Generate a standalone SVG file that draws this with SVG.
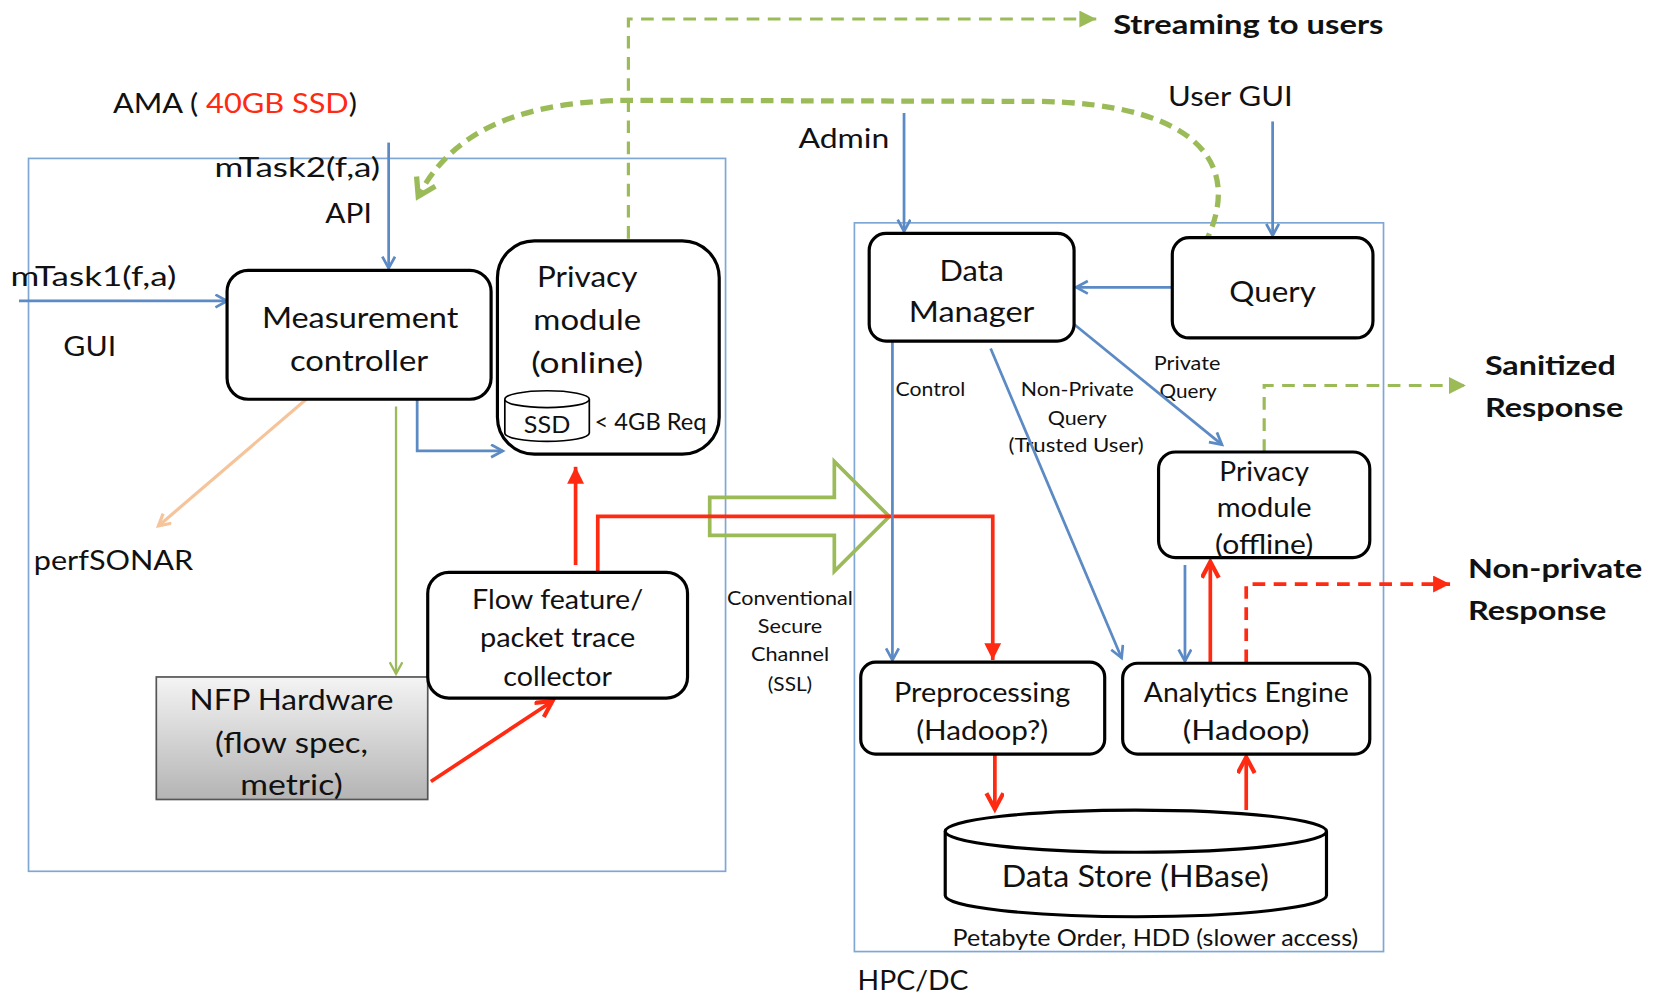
<svg xmlns="http://www.w3.org/2000/svg" width="1656" height="995" viewBox="0 0 1656 995">
<defs>
<style>
text{font-family:Lato,"Liberation Sans",sans-serif;fill:#111}
.t28{font-size:28px}
.t26{font-size:26px}
.t18{font-size:18px}
.b{font-weight:bold}
.box{fill:#fff;stroke:#000;stroke-width:3}
.frame{fill:none;stroke:#7fa7d6;stroke-width:1.6}
.blue{fill:none;stroke:#5b8ac4;stroke-width:2.6}
.red{fill:none;stroke:#ff2a12;stroke-width:3.5}
.green{fill:none;stroke:#9bbb59}
</style>
<linearGradient id="gray" x1="0" y1="0" x2="0" y2="1">
<stop offset="0" stop-color="#f4f4f4"/>
<stop offset="1" stop-color="#b4b4b4"/>
</linearGradient>
<marker id="ab" markerUnits="userSpaceOnUse" markerWidth="20" markerHeight="20" refX="12" refY="7" orient="auto">
<path d="M1,1 L12,7 L1,13" fill="none" stroke="#5b8ac4" stroke-width="2.6"/>
</marker>
<marker id="ar" markerUnits="userSpaceOnUse" markerWidth="24" markerHeight="24" refX="16" refY="9" orient="auto">
<path d="M1,1 L16,9 L1,17" fill="none" stroke="#ff2a12" stroke-width="4"/>
</marker>
<marker id="arf" markerUnits="userSpaceOnUse" markerWidth="24" markerHeight="24" refX="16" refY="8" orient="auto">
<path d="M0,0 L16,8 L0,16 Z" fill="#ff2a12"/>
</marker>
<marker id="ag" markerUnits="userSpaceOnUse" markerWidth="24" markerHeight="24" refX="16" refY="8" orient="auto">
<path d="M0,0 L16,8 L0,16 Z" fill="#9bbb59"/>
</marker>
<marker id="agt" markerUnits="userSpaceOnUse" markerWidth="20" markerHeight="20" refX="12" refY="7" orient="auto">
<path d="M1,1 L12,7 L1,13" fill="none" stroke="#9bbb59" stroke-width="2.2"/>
</marker>
<marker id="ago" markerUnits="userSpaceOnUse" markerWidth="30" markerHeight="30" refX="18" refY="12" orient="auto">
<path d="M2,2 L18,12 L2,22" fill="none" stroke="#9bbb59" stroke-width="5"/>
</marker>
<marker id="ap" markerUnits="userSpaceOnUse" markerWidth="20" markerHeight="20" refX="12" refY="7" orient="auto">
<path d="M1,1 L12,7 L1,13" fill="none" stroke="#f5c49a" stroke-width="3"/>
</marker>
</defs>
<rect width="1656" height="995" fill="#fff"/>
<g transform="scale(1.05612)">
<g id="frames">
<rect class="frame" x="27" y="150" width="660" height="675"/>
<rect class="frame" x="809" y="211" width="501" height="690"/>
</g>
<g id="labels">
<text class="t26" x="107" y="107" textLength="231" lengthAdjust="spacingAndGlyphs">AMA ( <tspan fill="#ff2a12">40GB SSD</tspan>)</text>
<text class="t26" x="203" y="168" textLength="157" lengthAdjust="spacingAndGlyphs">mTask2(f,a)</text>
<text class="t26" x="308" y="211" textLength="44" lengthAdjust="spacingAndGlyphs">API</text>
<text class="t26" x="10" y="271" textLength="157" lengthAdjust="spacingAndGlyphs">mTask1(f,a)</text>
<text class="t26" x="60" y="337" textLength="50" lengthAdjust="spacingAndGlyphs">GUI</text>
<text class="t26" x="32" y="540" textLength="151" lengthAdjust="spacingAndGlyphs">perfSONAR</text>
<text class="t26" x="756" y="140" textLength="86" lengthAdjust="spacingAndGlyphs">Admin</text>
<text class="t26" x="1106" y="100" textLength="118" lengthAdjust="spacingAndGlyphs">User GUI</text>
<text class="t26" x="812" y="937" textLength="105" lengthAdjust="spacingAndGlyphs">HPC/DC</text>
<text class="t26 b" x="1054" y="32" textLength="256" lengthAdjust="spacingAndGlyphs">Streaming to users</text>
<text class="t26 b" x="1406" y="355" textLength="124" lengthAdjust="spacingAndGlyphs">Sanitized</text>
<text class="t26 b" x="1406" y="395" textLength="131" lengthAdjust="spacingAndGlyphs">Response</text>
<text class="t26 b" x="1390" y="547" textLength="165" lengthAdjust="spacingAndGlyphs">Non-private</text>
<text class="t26 b" x="1390" y="587" textLength="131" lengthAdjust="spacingAndGlyphs">Response</text>
<g text-anchor="middle" class="t18">
<text x="748" y="573" textLength="119" lengthAdjust="spacingAndGlyphs">Conventional</text>
<text x="748" y="599" textLength="61" lengthAdjust="spacingAndGlyphs">Secure</text>
<text x="748" y="626" textLength="74" lengthAdjust="spacingAndGlyphs">Channel</text>
<text x="748" y="654" textLength="42" lengthAdjust="spacingAndGlyphs">(SSL)</text>
<text x="881" y="375" textLength="66" lengthAdjust="spacingAndGlyphs">Control</text>
<text x="1020" y="375" textLength="107" lengthAdjust="spacingAndGlyphs">Non-Private</text>
<text x="1020" y="402" textLength="56" lengthAdjust="spacingAndGlyphs">Query</text>
<text x="1019" y="428" textLength="128" lengthAdjust="spacingAndGlyphs">(Trusted User)</text>
<text x="1124" y="350" textLength="63" lengthAdjust="spacingAndGlyphs">Private</text>
<text x="1125" y="377" textLength="54" lengthAdjust="spacingAndGlyphs">Query</text>
</g>
<text x="1094" y="896" font-size="21" text-anchor="middle" textLength="384" lengthAdjust="spacingAndGlyphs">Petabyte Order, HDD (slower access)</text>
</g>
<g id="connectors">
<path class="blue" d="M368 135 V254" marker-end="url(#ab)"/>
<path class="blue" d="M18 285 H215" marker-end="url(#ab)"/>
<path class="blue" d="M395 378 V427 H476" marker-end="url(#ab)"/>
<path fill="none" stroke="#f5c49a" stroke-width="3" d="M290 378 L150 498" marker-end="url(#ap)"/>
<path class="green" stroke-width="2.2" d="M375 385 V638" marker-end="url(#agt)"/>
<path class="red" d="M408 740 L523 664" marker-end="url(#ar)"/>
<path class="red" d="M545 535 V442" marker-end="url(#arf)"/>
<path class="green" stroke-width="3" stroke-dasharray="12 8" d="M595 226 V18 H1038" marker-end="url(#ag)"/>
<path class="green" stroke-width="5" stroke-dasharray="12 7" d="M1140 232 C1178 160 1140 97 980 96 L600 95 C500 95 430 120 396 186" marker-end="url(#ago)"/>
<path class="green" stroke-width="3.5" d="M672 471 H790 V437 L842 489 L790 541 V507 H672 Z"/>
<path class="red" stroke-width="3" d="M566 542 V489 H940 V625" marker-end="url(#arf)"/>
<path class="blue" d="M856 107 V219" marker-end="url(#ab)"/>
<path class="blue" d="M1205 115 V223" marker-end="url(#ab)"/>
<path class="blue" stroke-width="3" d="M1110 272 H1019" marker-end="url(#ab)"/>
<path class="blue" d="M845 323 V625" marker-end="url(#ab)"/>
<path class="blue" d="M938 330 L1062 623" marker-end="url(#ab)"/>
<path class="blue" d="M1017 307 L1157 421" marker-end="url(#ab)"/>
<path class="green" stroke-width="3" stroke-dasharray="12 8" d="M1197 428 V365 H1388" marker-end="url(#ag)"/>
<path class="blue" d="M1122 535 V626" marker-end="url(#ab)"/>
<path class="red" stroke-width="3" d="M1146 627 V532" marker-end="url(#ar)"/>
<path class="red" stroke-width="3" stroke-dasharray="12 8" d="M1180 627 V553 H1373" marker-end="url(#arf)"/>
<path class="red" stroke-width="3" d="M942 714 V766" marker-end="url(#ar)"/>
<path class="red" stroke-width="3" d="M1180 767 V717" marker-end="url(#ar)"/>
</g>
<g id="measurement-controller">
<rect class="box" x="215" y="256" width="250" height="122" rx="20"/>
<text class="t28" x="341" y="311" text-anchor="middle" textLength="186" lengthAdjust="spacingAndGlyphs">Measurement</text>
<text class="t28" x="340" y="351" text-anchor="middle" textLength="131" lengthAdjust="spacingAndGlyphs">controller</text>
</g>
<g id="privacy-online">
<rect class="box" x="471" y="228" width="210" height="202" rx="35"/>
<text class="t28" x="556" y="272" text-anchor="middle" textLength="95" lengthAdjust="spacingAndGlyphs">Privacy</text>
<text class="t28" x="556" y="312" text-anchor="middle" textLength="102" lengthAdjust="spacingAndGlyphs">module</text>
<text class="t28" x="556" y="353" text-anchor="middle" textLength="106" lengthAdjust="spacingAndGlyphs">(online)</text>
<path d="M478 378 V410 A40 8 0 0 0 558 410 V378" fill="#fff" stroke="#000" stroke-width="1.6"/>
<ellipse cx="518" cy="378" rx="40" ry="8" fill="#fff" stroke="#000" stroke-width="1.6"/>
<text x="518" y="410" font-size="22" text-anchor="middle" textLength="44" lengthAdjust="spacingAndGlyphs">SSD</text>
<text x="563" y="407" font-size="21" textLength="106" lengthAdjust="spacingAndGlyphs">&lt; 4GB Req</text>
</g>
<g id="nfp-hardware">
<rect x="148" y="641" width="257" height="116" fill="url(#gray)" stroke="#555" stroke-width="1.6"/>
<text class="t28" x="276" y="672" text-anchor="middle" textLength="193" lengthAdjust="spacingAndGlyphs">NFP Hardware</text>
<text class="t28" x="276" y="713" text-anchor="middle" textLength="145" lengthAdjust="spacingAndGlyphs">(flow spec,</text>
<text class="t28" x="276" y="753" text-anchor="middle" textLength="97" lengthAdjust="spacingAndGlyphs">metric)</text>
</g>
<g id="flow-collector">
<rect class="box" x="405" y="542" width="246" height="119" rx="20"/>
<text class="t26" x="528" y="577" text-anchor="middle" textLength="162" lengthAdjust="spacingAndGlyphs">Flow feature/</text>
<text class="t26" x="528" y="613" text-anchor="middle" textLength="147" lengthAdjust="spacingAndGlyphs">packet trace</text>
<text class="t26" x="528" y="650" text-anchor="middle" textLength="103" lengthAdjust="spacingAndGlyphs">collector</text>
</g>
<g id="data-manager">
<rect class="box" x="823" y="221" width="194" height="102" rx="16"/>
<text class="t28" x="920" y="266" text-anchor="middle" textLength="61" lengthAdjust="spacingAndGlyphs">Data</text>
<text class="t28" x="920" y="305" text-anchor="middle" textLength="119" lengthAdjust="spacingAndGlyphs">Manager</text>
</g>
<g id="query">
<rect class="box" x="1110" y="225" width="190" height="95" rx="16"/>
<text class="t28" x="1205" y="286" text-anchor="middle" textLength="82" lengthAdjust="spacingAndGlyphs">Query</text>
</g>
<g id="privacy-offline">
<rect class="box" x="1097" y="428" width="200" height="100" rx="16"/>
<text class="t26" x="1197" y="455" text-anchor="middle" textLength="85" lengthAdjust="spacingAndGlyphs">Privacy</text>
<text class="t26" x="1197" y="490" text-anchor="middle" textLength="90" lengthAdjust="spacingAndGlyphs">module</text>
<text class="t26" x="1197" y="525" text-anchor="middle" textLength="93" lengthAdjust="spacingAndGlyphs">(offline)</text>
</g>
<g id="preprocessing">
<rect class="box" x="815" y="627" width="231" height="87" rx="14"/>
<text class="t26" x="930" y="665" text-anchor="middle" textLength="167" lengthAdjust="spacingAndGlyphs">Preprocessing</text>
<text class="t26" x="930" y="701" text-anchor="middle" textLength="125" lengthAdjust="spacingAndGlyphs">(Hadoop?)</text>
</g>
<g id="analytics-engine">
<rect class="box" x="1063" y="628" width="234" height="86" rx="14"/>
<text class="t26" x="1180" y="665" text-anchor="middle" textLength="194" lengthAdjust="spacingAndGlyphs">Analytics Engine</text>
<text class="t26" x="1180" y="701" text-anchor="middle" textLength="120" lengthAdjust="spacingAndGlyphs">(Hadoop)</text>
</g>
<g id="data-store">
<path d="M895 787 V848 A180.5 20 0 0 0 1256 848 V787" fill="#fff" stroke="#000" stroke-width="3"/>
<ellipse cx="1075.5" cy="787" rx="180.5" ry="20" fill="#fff" stroke="#000" stroke-width="3"/>
<text x="1075" y="840" font-size="30" text-anchor="middle" textLength="253" lengthAdjust="spacingAndGlyphs">Data Store (HBase)</text>
</g>
</g>
</svg>
